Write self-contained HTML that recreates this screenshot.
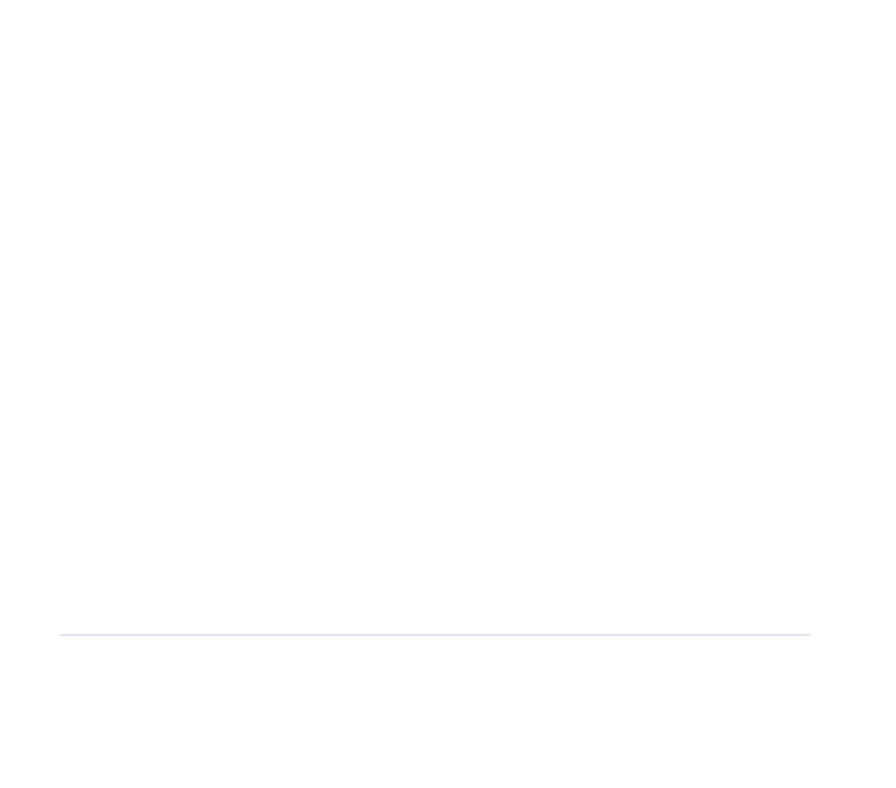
<!DOCTYPE html>
<html><head><meta charset="utf-8"><style>
html,body{margin:0;padding:0;background:#fff;width:896px;height:788px;overflow:hidden}
.l{position:absolute;left:60px;top:634px;width:751px;height:2px;background:#e3e3ef}
</style></head><body><div class="l"></div></body></html>
